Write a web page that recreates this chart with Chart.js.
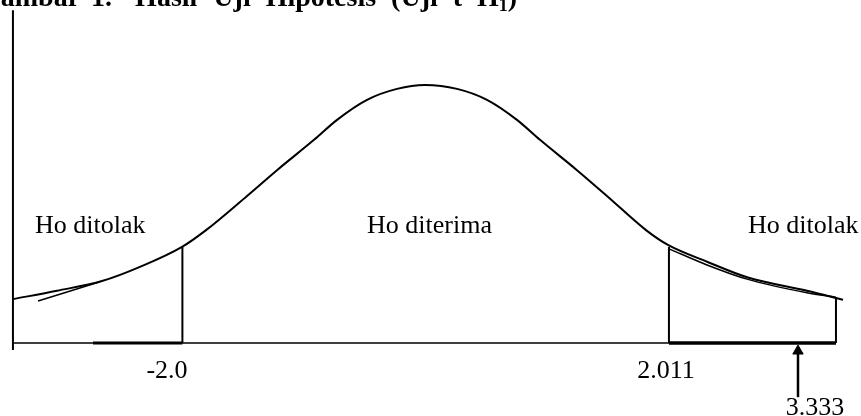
<!DOCTYPE html>
<html>
<head>
<meta charset="utf-8">
<script src="https://cdn.jsdelivr.net/npm/chart.js@4.4.1/dist/chart.umd.min.js"></script>
<style>
  html, body { margin: 0; padding: 0; background: #fff; overflow: hidden; }
  canvas { display: block; }
</style>
</head>
<body>
<canvas id="uji-t" width="861" height="416"></canvas>
<script>
// curve (t on x, height on y)
const curveX = [-3.397, -3.034, -2.663, -2.35, -2.003, -1.805, -1.467, -1.22, -0.915, -0.725, -0.478, -0.231, 0,
  0.264, 0.511, 0.758, 0.948, 1.253, 1.5, 1.822, 2.003, 2.325, 2.655, 3.149, 3.446];
const curveY = [0.068, 0.081, 0.096, 0.118, 0.149, 0.175, 0.228, 0.268, 0.315, 0.346, 0.377, 0.394, 0.4,
  0.394, 0.377, 0.346, 0.315, 0.268, 0.228, 0.175, 0.152, 0.126, 0.102, 0.081, 0.067];

// inner top edge of the right rejection area
const shadeX = [2.011, 2.325, 2.655, 3.149, 3.388];
const shadeY = [0.146, 0.121, 0.099, 0.078, 0.071];

// small stray stroke on the left tail
const strokeX = [-3.19, -2.679];
const strokeY = [0.065, 0.095];

const axisX = -3.397;
const axisTop = 0.516;
const axisBottom = -0.011;
const baseEnd = 3.388;

const criticalValues = [-2.0, 2.011];
const criticalHeights = [0.149, 0.149];
const leftBarStart = -2.737;

const tHitung = 3.333;
const arrowX = 3.075;
const arrowTail = -0.084;
const arrowTip = -0.003;

const regionLabels = ["Ho ditolak", "Ho diterima", "Ho ditolak"];
const regionLabelX = [-3.215, -0.478, 2.663];
const regionLabelY = 0.1705;

const tickLabels = ["-2.0", "2.011", String(tHitung)];
const tickLabelX = [-2.127, 1.987, 3.215];
const tickLabelY = [-0.054, -0.054, -0.1116];

// justified title, words spread out like the source document
const titleWords = ["Gambar", "1.", "Hasil", "Uji", "Hipotesis", "(Uji", "t", "H"];
const titleGaps = [11, 23, 16, 15, 15, 15, 15];
const titleSub = "1";

const pts = (xs, ys) => xs.map((x, i) => ({ x: x, y: ys[i] }));
const line = (data, width, extra) => Object.assign({
  data: data,
  showLine: true,
  borderColor: "#000",
  borderWidth: width,
  pointRadius: 0,
  fill: false,
}, extra || {});

const ctx = document.getElementById("uji-t").getContext("2d");

const textPlugin = {
  id: "textPlugin",
  afterDatasetsDraw(chart) {
    const c = chart.ctx;
    const xs = chart.scales.x;
    const ys = chart.scales.y;
    c.save();
    c.fillStyle = "#000";
    c.textBaseline = "alphabetic";

    c.font = "26px 'Liberation Serif', 'Times New Roman', serif";
    c.textAlign = "left";
    regionLabels.forEach((t, i) => {
      c.fillText(t, xs.getPixelForValue(regionLabelX[i]), ys.getPixelForValue(regionLabelY));
    });
    c.textAlign = "center";
    tickLabels.forEach((t, i) => {
      c.fillText(t, xs.getPixelForValue(tickLabelX[i]), ys.getPixelForValue(tickLabelY[i]));
    });

    // title, cut off at the top like the scan
    c.textAlign = "left";
    const bold = "bold 28px 'Liberation Serif', 'Times New Roman', serif";
    c.font = bold;
    let tx = -21;
    titleWords.forEach((w, i) => {
      c.fillText(w, tx, 6);
      tx += c.measureText(w).width + (titleGaps[i] || 0);
    });
    c.font = "bold 18px 'Liberation Serif', 'Times New Roman', serif";
    c.fillText(titleSub, tx, 11);
    tx += c.measureText(titleSub).width;
    c.font = bold;
    c.fillText(")", tx, 6);
    c.restore();
  },
};

const chart = new Chart(ctx, {
  type: "scatter",
  data: {
    datasets: [
      line(pts(curveX, curveY), 2, { cubicInterpolationMode: "monotone" }),
      line(pts(shadeX, shadeY), 1.5, { cubicInterpolationMode: "monotone" }),
      line(pts(strokeX, strokeY), 1.5),
      line([{ x: axisX, y: axisBottom }, { x: axisX, y: axisTop }], 2),
      line([{ x: axisX, y: 0 }, { x: baseEnd, y: 0 }], 1.5),
      line([{ x: leftBarStart, y: 0 }, { x: criticalValues[0], y: 0 }], 3),
      line([{ x: criticalValues[1], y: 0 }, { x: baseEnd, y: 0 }], 3.5),
      line([{ x: criticalValues[0], y: 0 }, { x: criticalValues[0], y: criticalHeights[0] }], 2),
      line([{ x: criticalValues[1], y: 0 }, { x: criticalValues[1], y: criticalHeights[1] }], 2),
      line([{ x: baseEnd, y: 0 }, { x: baseEnd, y: shadeY[shadeY.length - 1] }], 2),
      line([{ x: arrowX, y: arrowTail }, { x: arrowX, y: arrowTip - 0.012 }], 2.5),
      {
        data: [{ x: arrowX, y: arrowTip - 0.0095 }],
        pointStyle: "triangle",
        pointRadius: 6,
        backgroundColor: "#000",
        borderColor: "#000",
        borderWidth: 1,
      },
    ],
  },
  options: {
    responsive: false,
    animation: false,
    devicePixelRatio: 1,
    layout: { padding: 0, autoPadding: false },
    plugins: {
      legend: { display: false },
      tooltip: { enabled: false },
    },
    scales: {
      x: { type: "linear", display: false, min: -3.5037, max: 3.5944 },
      y: { type: "linear", display: false, min: -0.1132, max: 0.5318 },
    },
  },
  plugins: [textPlugin],
});
</script>
</body>
</html>
